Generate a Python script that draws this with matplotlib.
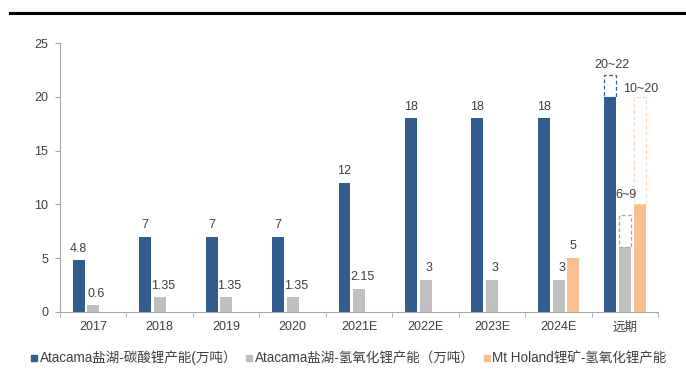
import matplotlib
matplotlib.use("Agg")
import matplotlib.pyplot as plt
import numpy as np
from matplotlib.patches import Rectangle
from matplotlib.lines import Line2D

plt.rcParams['font.family'] = ['Liberation Sans', 'Noto Sans CJK SC', 'DejaVu Sans']

categories = ['2017', '2018', '2019', '2020', '2021E', '2022E', '2023E', '2024E', '远期']
carbonate = [4.8, 7, 7, 7, 12, 18, 18, 18, 20]
hydroxide = [0.6, 1.35, 1.35, 1.35, 2.15, 3, 3, 3, 6]
holland = [None, None, None, None, None, None, None, 5, 10]
carbonate_labels = ['4.8', '7', '7', '7', '12', '18', '18', '18', '20~22']
hydroxide_labels = ['0.6', '1.35', '1.35', '1.35', '2.15', '3', '3', '3', '6~9']
holland_labels = ['', '', '', '', '', '', '', '5', '10~20']
range_tops = [22, 9, 20]  # 远期 upper ends: carbonate, hydroxide, holland
series_names = ['Atacama盐湖-碳酸锂产能(万吨）', 'Atacama盐湖-氢氧化锂产能（万吨）', 'Mt Holand锂矿-氢氧化锂产能']

c_blue = '#335C8E'
c_gray = '#BFBFBF'
c_orange = '#F9C08F'
c_orange_dash = '#FBD9BF'

fig = plt.figure(figsize=(6.86, 3.83), dpi=100)
ax = fig.add_axes([0.0875, 0.186, 0.872, 0.701])

x = np.arange(len(categories))
w = 0.18
off = 0.22
ax.bar(x - off, carbonate, w, color=c_blue)
ax.bar(x, hydroxide, w, color=c_gray)
hx = [xi + off for xi, v in zip(x, holland) if v is not None]
hv = [v for v in holland if v is not None]
ax.bar(hx, hv, w, color=c_orange)

last = len(categories) - 1
# dashed range boxes
boxes = [(last - off, carbonate[last], range_tops[0], c_blue),
         (last, hydroxide[last], range_tops[1], '#A6A6A6'),
         (last + off, holland[last], range_tops[2], c_orange_dash)]
for bx, lo, hi, ec in boxes:
    ax.add_patch(Rectangle((bx - w / 2, lo), w, hi - lo, fill=False,
                           edgecolor=ec, linestyle=(0, (3, 2)), linewidth=0.9))

fs = 9
tc = '#404040'
d = 0.8
for i in range(last):
    ax.text(x[i] - off, carbonate[i] + d, carbonate_labels[i], ha='center', va='baseline', fontsize=fs, color=tc)
    ax.text(x[i] + 0.05, hydroxide[i] + d, hydroxide_labels[i], ha='center', va='baseline', fontsize=fs, color=tc)
    if holland[i] is not None:
        ax.text(x[i] + off, holland[i] + d, holland_labels[i], ha='center', va='baseline', fontsize=fs, color=tc)
ax.text(x[last] - off + 0.03, range_tops[0] + 0.7, carbonate_labels[last], ha='center', va='baseline', fontsize=fs, color=tc)
ax.text(x[last] + 0.01, range_tops[1] + 1.55, hydroxide_labels[last], ha='center', va='baseline', fontsize=fs, color=tc)
ax.text(x[last] + off + 0.01, range_tops[2] + 0.5, holland_labels[last], ha='center', va='baseline', fontsize=fs, color=tc)

ax.set_xlim(-0.5, len(categories) - 0.5)
ax.set_ylim(0, 25)
ax.set_yticks([0, 5, 10, 15, 20, 25])
ax.set_xticks(x)
ax.set_xticklabels(categories)
ax.set_xticks(np.arange(-0.5, len(categories), 1), minor=True)
ax.tick_params(axis='x', which='major', length=0, labelsize=fs, colors=tc, pad=7)
ax.tick_params(axis='x', which='minor', length=3.6, color='#A6A6A6')
ax.tick_params(axis='y', length=3.6, color='#A6A6A6', labelsize=fs, labelcolor=tc, pad=5)
for s in ['top', 'right']:
    ax.spines[s].set_visible(False)
ax.spines['bottom'].set_color('#A6A6A6')
ax.spines['left'].set_color('#A6A6A6')

# legend
handles = [Line2D([], [], marker='s', linestyle='', color=c, markersize=5)
           for c in [c_blue, c_gray, c_orange]]
fig.legend(handles, series_names, loc='center left', bbox_to_anchor=(0.042, 0.065), ncol=3,
           frameon=False, fontsize=9.75, handletextpad=0.0, columnspacing=0.5, labelcolor=tc,
           handlelength=0.8, borderaxespad=0, borderpad=0)

# top rule
fig.add_artist(Line2D([0.015, 1.0], [0.966, 0.966], color='black', linewidth=2.2, transform=fig.transFigure))

fig.savefig('out.png', dpi=100)
